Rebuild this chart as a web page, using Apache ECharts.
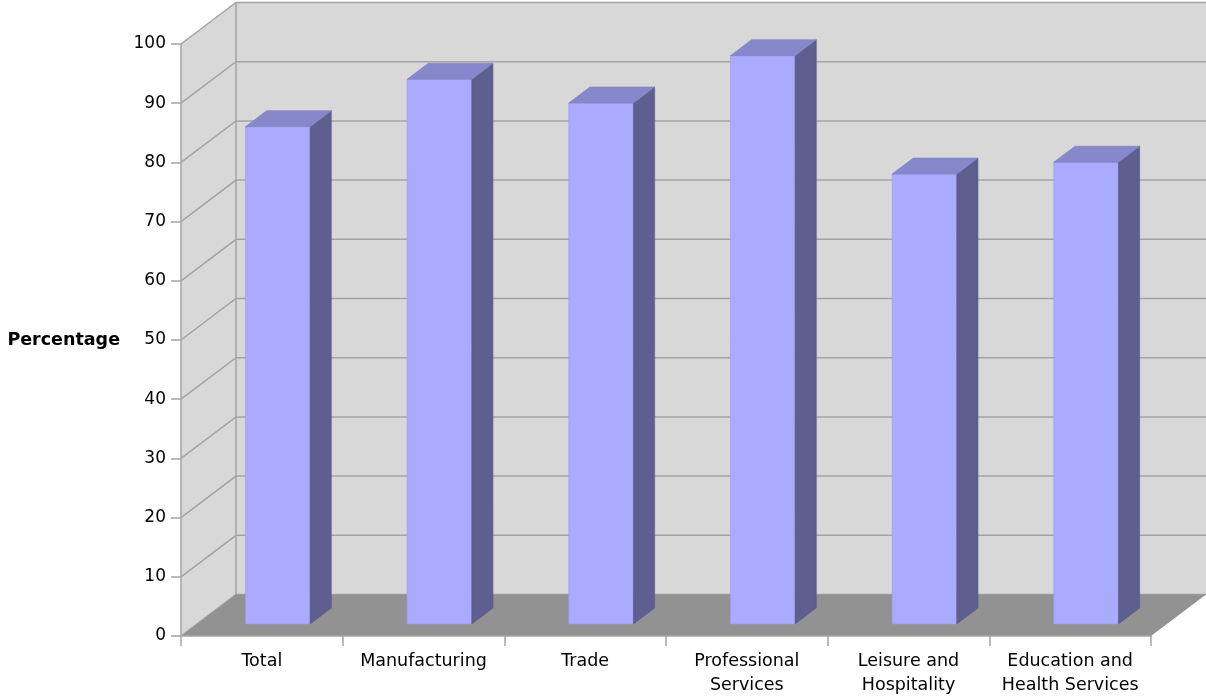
<!DOCTYPE html>
<html>
<head>
<meta charset="utf-8">
<script src="https://cdn.jsdelivr.net/npm/echarts@6/dist/echarts.min.js"></script>
<style>
html,body{margin:0;padding:0;background:#fff;}
#chart{width:1206px;height:698px;}
</style>
</head>
<body>
<div id="chart"></div>
<script>
const categories = ['Total', 'Manufacturing', 'Trade', 'Professional\nServices', 'Leisure and\nHospitality', 'Education and\nHealth Services'];
const values = [84, 92, 88, 96, 76, 78];
const yTicks = [0, 10, 20, 30, 40, 50, 60, 70, 80, 90, 100];
const yAxisTitle = 'Percentage';

// 3D styling (layout constants)
const DX = 55, DY = -41.5;          // depth of the box
const BAR_FRONT = 0.29;             // bar front position within depth
const BAR_DEPTH = 0.385;            // bar depth as fraction of box depth
const BAR_WIDTH = 0.4;              // fraction of category band
const FONT = '"DejaVu Sans", Verdana, sans-serif';

const chart = echarts.init(document.getElementById('chart'), null, {renderer: 'canvas'});

function bgRender(params, api) {
  const cs = params.coordSys;
  const x0 = cs.x, x1 = cs.x + cs.width;
  const yMax = yTicks[yTicks.length - 1];
  const yT = api.coord([0, yMax])[1];
  const yB = api.coord([0, yTicks[0]])[1];
  const children = [];
  children.push({type: 'rect', shape: {x: x0 + DX, y: yT + DY, width: x1 - x0, height: yB - yT},
    style: {fill: '#d8d8d8', stroke: null}});
  children.push({type: 'polygon', shape: {points: [[x0, yT], [x0 + DX, yT + DY], [x0 + DX, yB + DY], [x0, yB]]},
    style: {fill: '#d8d8d8', stroke: null}});
  yTicks.forEach(function (v) {
    const y = api.coord([0, v])[1];
    children.push({type: 'polyline', shape: {points: [[x0, y], [x0 + DX, y + DY], [x1 + DX, y + DY]]},
      style: {fill: null, stroke: '#a4a4a4', lineWidth: 1.5}});
  });
  children.push({type: 'line', shape: {x1: x0 + DX, y1: yT + DY, x2: x0 + DX, y2: yB + DY},
    style: {stroke: '#a4a4a4', lineWidth: 1.5}});
  children.push({type: 'polygon', shape: {points: [[x0, yB], [x0 + DX, yB + DY], [x1 + DX, yB + DY], [x1, yB]]},
    style: {fill: '#929292', stroke: null}});
  return {type: 'group', children: children};
}

function barRender(params, api) {
  const idx = api.value(0), val = api.value(1);
  const top = api.coord([idx, val]);
  const base = api.coord([idx, 0]);
  const band = api.size([1, 0])[0];
  const w = band * BAR_WIDTH;
  const fx = BAR_FRONT * DX, fy = BAR_FRONT * DY;
  const dx = BAR_DEPTH * DX, dy = BAR_DEPTH * DY;
  const L = top[0] + fx - w / 2, R = top[0] + fx + w / 2;
  const T = top[1] + fy, B = base[1] + fy;
  return {type: 'group', children: [
    {type: 'polygon', shape: {points: [[L, T], [R, T], [R, B], [L, B]]},
      style: {fill: '#aaaaff', stroke: '#9c9cf0', lineWidth: 0.6}},
    {type: 'polygon', shape: {points: [[R, T], [R + dx, T + dy], [R + dx, B + dy], [R, B]]},
      style: {fill: '#5f5f8f', stroke: '#585886', lineWidth: 0.6}},
    {type: 'polygon', shape: {points: [[L, T], [L + dx, T + dy], [R + dx, T + dy], [R, T]]},
      style: {fill: '#8787cc', stroke: '#7d7dc0', lineWidth: 0.6}}
  ]};
}

chart.setOption({
  animation: false,
  backgroundColor: '#ffffff',
  grid: {left: 181, right: 55, top: 44, bottom: 62, containLabel: false},
  xAxis: {
    type: 'category',
    data: categories,
    boundaryGap: true,
    z: 5,
    axisLine: {show: true, lineStyle: {color: '#a4a4a4', width: 1.5}},
    axisTick: {show: true, length: 10, alignWithLabel: false, lineStyle: {color: '#a4a4a4', width: 1.5}},
    axisLabel: {color: '#000', fontFamily: FONT, fontSize: 17.5, lineHeight: 24, margin: 13, interval: 0},
    splitLine: {show: false}
  },
  yAxis: {
    type: 'value',
    min: 0, max: 100, interval: 10,
    z: 5,
    name: yAxisTitle,
    nameLocation: 'middle',
    nameRotate: 0,
    nameGap: 61,
    nameTextStyle: {color: '#000', fontFamily: FONT, fontSize: 17.5, fontWeight: 'bold', align: 'right', verticalAlign: 'middle', padding: [0, 0, 0, 0]},
    axisLine: {show: true, lineStyle: {color: '#a4a4a4', width: 1.5}},
    axisTick: {show: true, length: 10, lineStyle: {color: '#a4a4a4', width: 1.5}},
    axisLabel: {color: '#000', fontFamily: FONT, fontSize: 17, margin: 15},
    splitLine: {show: false}
  },
  series: [
    {type: 'custom', z: 1, clip: false, silent: true, renderItem: bgRender, data: [[0, 0]]},
    {type: 'custom', z: 3, clip: false, renderItem: barRender,
      data: values.map(function (v, i) { return [i, v]; })}
  ]
});
</script>
</body>
</html>
